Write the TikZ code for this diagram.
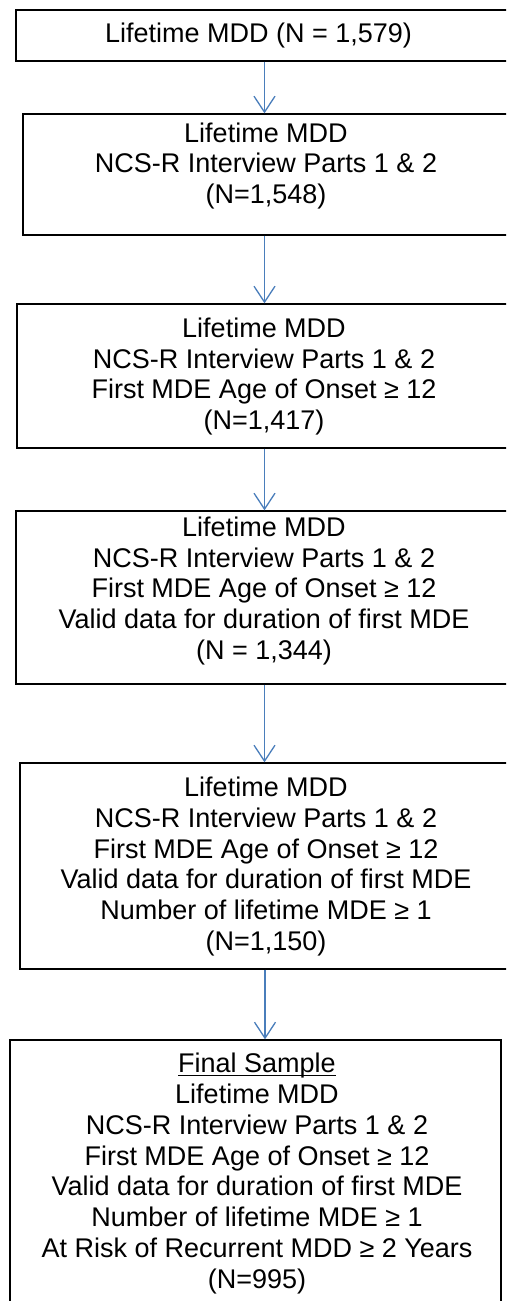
\documentclass[tikz,border=0pt]{standalone}
\usepackage{fontspec}
\setmainfont{Liberation Sans}
\usetikzlibrary{arrows.meta}
\definecolor{arrblue}{RGB}{74,126,187}
\newcommand\myul[1]{\setbox0\hbox{#1}\rlap{\rule[-3.6pt]{\wd0}{1.2pt}}\box0}
\tikzset{
  stepbox/.style={draw=black, line width=1.3pt, rectangle, inner sep=0pt},
  txt/.style={align=center, inner sep=0pt, font=\fontsize{27}{30.8}\selectfont},
  arr/.style={draw=arrblue, line width=1.3pt, -{Straight Barb[length=16pt,width=21pt,line width=1.3pt]}}
}
\begin{document}
\begin{tikzpicture}[x=1pt,y=-1pt]
\clip (0,0) rectangle (506,1301);
\fill[white] (0,0) rectangle (506,1301);
% boxes
\node[stepbox, minimum width=497, minimum height=51] (b1) at (264.5,35.5) {};
\node[stepbox, minimum width=487, minimum height=121] (b2) at (266.5,174.5) {};
\node[stepbox, minimum width=495, minimum height=144] (b3) at (264.5,376) {};
\node[stepbox, minimum width=497, minimum height=173] (b4) at (264.5,597.5) {};
\node[stepbox, minimum width=490, minimum height=206] (b5) at (265,866) {};
\node[stepbox, minimum width=491, minimum height=280] (b6) at (255.5,1180) {};
% texts
\node[txt] (t1) at (258.5,35.5) {Lifetime MDD (N = 1,579)};
\node[txt] (t2) at (266,166) {Lifetime MDD\\NCS-R Interview Parts 1 \& 2\\(N=1,548)};
\node[txt] (t3) at (264,376.5) {Lifetime MDD\\NCS-R Interview Parts 1 \& 2\\First MDE Age of Onset ≥ 12\\(N=1,417)};
\node[txt] (t4) at (264,591) {Lifetime MDD\\NCS-R Interview Parts 1 \& 2\\First MDE Age of Onset ≥ 12\\Valid data for duration of first MDE\\(N = 1,344)};
\node[txt] (t5) at (266,866.5) {Lifetime MDD\\NCS-R Interview Parts 1 \& 2\\First MDE Age of Onset ≥ 12\\Valid data for duration of first MDE\\Number of lifetime MDE ≥ 1\\(N=1,150)};
\node[txt] (t6) at (257,1173.5) {\myul{Final Sample}\\Lifetime MDD\\NCS-R Interview Parts 1 \& 2\\First MDE Age of Onset ≥ 12\\Valid data for duration of first MDE\\Number of lifetime MDE ≥ 1\\At Risk of Recurrent MDD ≥ 2 Years\\(N=995)};
% arrows
\draw[arr] (b1.south) -- (b1.south |- b2.north);
\draw[arr] (b3.north |- b2.south) -- (b3.north);
\draw[arr] (b3.south) -- (b3.south |- b4.north);
\draw[arr] (b4.south) -- (b4.south |- b5.north);
\draw[arr] (b5.south) -- (b5.south |- b6.north);
\end{tikzpicture}
\end{document}
